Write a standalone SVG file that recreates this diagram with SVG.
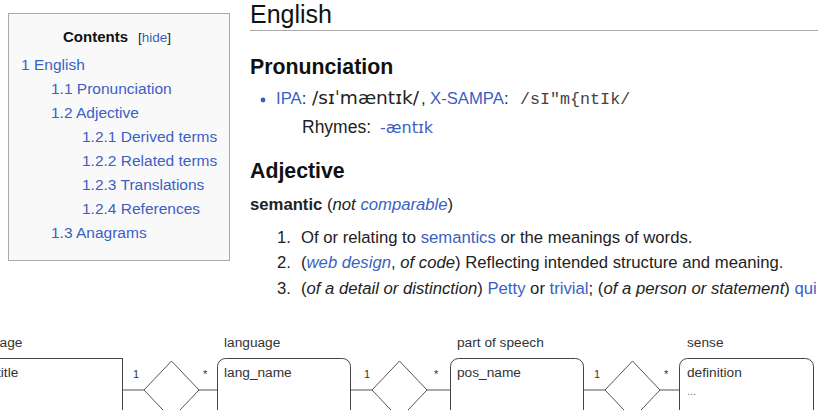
<svg xmlns="http://www.w3.org/2000/svg" width="823" height="410" viewBox="0 0 823 410">
<style>
text{font-family:"Liberation Sans",Arial,sans-serif;fill:#222}
.toc{font-size:15.5px;fill:#3b5fc4}
.lk{fill:#3b5fc4}
.body{font-size:16.7px}
.h2{font-size:21.3px;font-weight:bold;fill:#111}
.it{font-style:italic}
.ipa{font-family:"DejaVu Sans",sans-serif}
.mono{font-family:"Liberation Mono","Courier New",monospace;fill:#444}
.er{font-size:13.7px;fill:#333}
.card{font-size:11px;fill:#333}
.ent{fill:#fff;stroke:#444;stroke-width:1}
.rel{fill:#fff;stroke:#555;stroke-width:1}
.con line{stroke:#555;stroke-width:1}
</style>
<rect width="823" height="410" fill="#fff"/>
<g id="toc">
<rect x="8.5" y="13.5" width="221" height="247" fill="#f9f9f9" stroke="#aaa"/>
<text x="63" y="42" style="font-size:15px;font-weight:bold;fill:#111">Contents</text>
<text x="138" y="42" style="font-size:13.5px"><tspan>[</tspan><tspan class="lk">hide</tspan><tspan>]</tspan></text>
<text class="toc" x="21" y="70">1 English</text>
<text class="toc" x="51" y="94">1.1 Pronunciation</text>
<text class="toc" x="51" y="118">1.2 Adjective</text>
<text class="toc" x="82" y="142">1.2.1 Derived terms</text>
<text class="toc" x="82" y="166">1.2.2 Related terms</text>
<text class="toc" x="82" y="190">1.2.3 Translations</text>
<text class="toc" x="82" y="214">1.2.4 References</text>
<text class="toc" x="51" y="238">1.3 Anagrams</text>
</g>
<g id="article">
<text x="250" y="23" style="font-size:25px;fill:#111">English</text>
<line x1="250" y1="30.5" x2="818" y2="30.5" stroke="#aaa" stroke-width="1.2"/>
<text class="h2" x="250" y="74">Pronunciation</text>
<circle cx="263" cy="100" r="2.4" fill="#3b5fc4"/>
<text class="body" x="276" y="104"><tspan class="lk">IPA</tspan>:</text>
<text class="body ipa" x="312" y="104" style="font-size:17px" textLength="107" lengthAdjust="spacingAndGlyphs">/sɪˈmæntɪk/</text>
<text class="body" x="421" y="104">,</text>
<text class="body" x="430" y="104"><tspan class="lk">X-SAMPA</tspan>:</text>
<text class="body mono" x="520" y="104">/sI"m{ntIk/</text>
<text class="body" x="302" y="132.5" style="font-size:17.5px">Rhymes:</text>
<text class="body ipa lk" x="380" y="132.5" style="font-size:16px">-æntɪk</text>
<text class="h2" x="250" y="178">Adjective</text>
<text class="body" x="250" y="210"><tspan style="font-weight:bold">semantic</tspan> (<tspan class="it">not</tspan> <tspan class="it lk">comparable</tspan>)</text>
<text class="body" x="277" y="243">1.</text>
<text class="body" x="301" y="243">Of or relating to <tspan class="lk">semantics</tspan> or the meanings of words.</text>
<text class="body" x="277" y="268">2.</text>
<text class="body" x="301" y="268">(<tspan class="it lk">web design</tspan>, <tspan class="it">of code</tspan>) Reflecting intended structure and meaning.</text>
<text class="body" x="277" y="294">3.</text>
<text class="body" x="301" y="294">(<tspan class="it">of a detail or distinction</tspan>) <tspan class="lk">Petty</tspan> or <tspan class="lk">trivial</tspan>; (<tspan class="it">of a person or statement</tspan>) <tspan class="lk">qui</tspan></text>
</g>
<g class="con" id="connectors">
<line x1="122" y1="390" x2="144" y2="390"/>
<line x1="199" y1="390" x2="217" y2="390"/>
<line x1="350" y1="390" x2="372" y2="390"/>
<line x1="427" y1="390" x2="450" y2="390"/>
<line x1="583" y1="390" x2="605" y2="390"/>
<line x1="660" y1="390" x2="679" y2="390"/>
<text class="card" x="133" y="378">1</text>
<text class="card" x="203" y="378">*</text>
<text class="card" x="364" y="378">1</text>
<text class="card" x="434" y="378">*</text>
<text class="card" x="594" y="378">1</text>
<text class="card" x="664" y="378">*</text>
</g>
<g id="page">
<text class="er" x="-8" y="347">page</text>
<rect class="ent" x="-10" y="358.5" width="132.5" height="70"/>
<text class="er" x="-3" y="377">title</text>
</g>
<g id="rel1"><polygon class="rel" points="171.5,361 199,390 171.5,419 144,390"/></g>
<g id="language">
<text class="er" x="224" y="347">language</text>
<rect class="ent" x="217.5" y="358.5" width="133" height="70" rx="8"/>
<text class="er" x="224" y="377">lang_name</text>
</g>
<g id="rel2"><polygon class="rel" points="399.5,361 427,390 399.5,419 372,390"/></g>
<g id="pos">
<text class="er" x="457" y="347">part of speech</text>
<rect class="ent" x="450.5" y="358.5" width="133" height="70" rx="8"/>
<text class="er" x="457" y="377">pos_name</text>
</g>
<g id="rel3"><polygon class="rel" points="632.5,361 660,390 632.5,419 605,390"/></g>
<g id="sense">
<text class="er" x="687" y="347">sense</text>
<rect class="ent" x="679.5" y="358.5" width="134" height="70" rx="8"/>
<text class="er" x="687" y="377">definition</text>
<text class="er" x="687" y="395" style="font-size:11px;fill:#777">...</text>
</g>
</svg>
